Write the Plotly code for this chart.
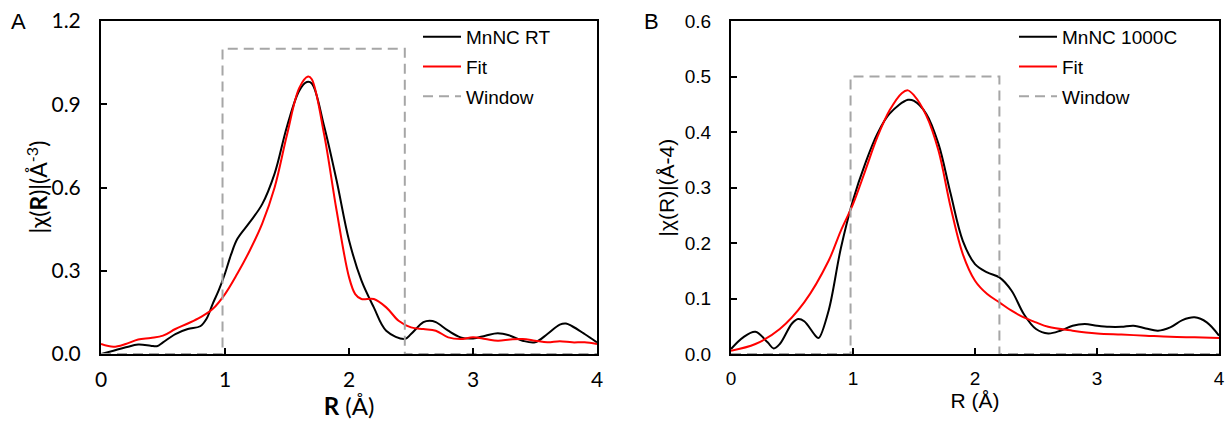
import plotly.graph_objects as go

# Panel A: MnNC RT
rA = [0.0, 0.1, 0.2, 0.3, 0.4, 0.45, 0.5, 0.6, 0.7, 0.8, 0.85, 0.9, 0.95, 1.0, 1.05, 1.1, 1.2, 1.3,
      1.4, 1.5, 1.6, 1.66, 1.7, 1.8, 1.9, 2.0, 2.1, 2.2, 2.3, 2.45, 2.5, 2.6, 2.65, 2.7, 2.8, 2.9,
      3.0, 3.1, 3.2, 3.3, 3.4, 3.5, 3.6, 3.7, 3.75, 3.8, 3.9, 4.0]
mnnc_rt = [0.0, 0.012, 0.024, 0.034, 0.03, 0.028, 0.042, 0.072, 0.09, 0.10, 0.126, 0.18, 0.23, 0.29,
           0.36, 0.415, 0.475, 0.54, 0.65, 0.82, 0.95, 0.98, 0.975, 0.82, 0.625, 0.41, 0.265, 0.168,
           0.084, 0.054, 0.072, 0.115, 0.12, 0.115, 0.084, 0.06, 0.056, 0.066, 0.075, 0.066, 0.048,
           0.042, 0.072, 0.106, 0.11, 0.10, 0.072, 0.042]

rA_fit = [0.0, 0.1, 0.2, 0.3, 0.4, 0.5, 0.6, 0.7, 0.8, 0.9, 1.0, 1.1, 1.2, 1.3, 1.4, 1.5, 1.6, 1.67,
          1.7, 1.8, 1.9, 2.0, 2.05, 2.1, 2.2, 2.3, 2.4, 2.5, 2.6, 2.7, 2.8, 2.9, 3.0, 3.1, 3.2, 3.3,
          3.4, 3.5, 3.6, 3.7, 3.8, 3.9, 4.0]
fit_rt = [0.036, 0.026, 0.036, 0.052, 0.058, 0.066, 0.09, 0.11, 0.132, 0.162, 0.216, 0.29, 0.373,
          0.47, 0.60, 0.79, 0.96, 1.0, 0.99, 0.79, 0.517, 0.277, 0.216, 0.198, 0.198, 0.168, 0.12,
          0.096, 0.09, 0.084, 0.06, 0.054, 0.06, 0.054, 0.048, 0.052, 0.054, 0.048, 0.042, 0.046,
          0.042, 0.042, 0.036]

winA_x = [0.0, 0.98, 0.98, 2.45, 2.45, 4.0]
winA_y = [0.0, 0.0, 1.1, 1.1, 0.0, 0.0]

# Panel B: MnNC 1000C
rB = [0.0, 0.1, 0.2, 0.3, 0.35, 0.4, 0.5, 0.55, 0.6, 0.7, 0.72, 0.8, 0.9, 1.0, 1.1, 1.2, 1.3, 1.45,
      1.5, 1.6, 1.7, 1.8, 1.9, 2.0, 2.1, 2.2, 2.3, 2.4, 2.5, 2.6, 2.7, 2.8, 2.9, 3.0, 3.1, 3.2, 3.3,
      3.4, 3.5, 3.6, 3.7, 3.8, 3.9, 4.0]
mnnc_1000 = [0.009, 0.03, 0.04, 0.021, 0.01, 0.018, 0.055, 0.063, 0.059, 0.031, 0.029, 0.078, 0.19,
             0.277, 0.343, 0.397, 0.433, 0.458, 0.456, 0.433, 0.379, 0.289, 0.204, 0.162, 0.147,
             0.138, 0.114, 0.072, 0.045, 0.037, 0.042, 0.051, 0.054, 0.051, 0.049, 0.049, 0.051,
             0.046, 0.042, 0.048, 0.061, 0.066, 0.057, 0.033]

rB_fit = [0.0, 0.2, 0.4, 0.6, 0.8, 0.9, 1.0, 1.1, 1.2, 1.3, 1.4, 1.45, 1.5, 1.6, 1.7, 1.8, 1.9, 2.0,
          2.1, 2.2, 2.3, 2.4, 2.5, 2.6, 2.8, 3.0, 3.2, 3.4, 3.6, 3.8, 4.0]
fit_1000 = [0.006, 0.018, 0.045, 0.093, 0.168, 0.222, 0.27, 0.33, 0.391, 0.439, 0.47, 0.475, 0.466,
            0.43, 0.367, 0.265, 0.18, 0.132, 0.108, 0.093, 0.078, 0.066, 0.057, 0.049, 0.042,
            0.037, 0.035, 0.033, 0.031, 0.03, 0.029]

winB_x = [0.0, 0.98, 0.98, 2.2, 2.2, 4.0]
winB_y = [0.0, 0.0, 0.5, 0.5, 0.0, 0.0]

GRAY = "#A6A6A6"
FONT_A = "Lato, 'Open Sans', sans-serif"
FONT_B = "'Liberation Sans', Arial, sans-serif"

fig = go.Figure()

# Panel A traces
fig.add_trace(go.Scatter(x=rA, y=mnnc_rt, mode="lines", name="MnNC RT", line=dict(color="black", width=2, shape="spline"),
                         xaxis="x", yaxis="y", legend="legend", legendgroup="a1"))
fig.add_trace(go.Scatter(x=rA_fit, y=fit_rt, mode="lines", name="Fit", line=dict(color="#FF0000", width=2, shape="spline"),
                         xaxis="x", yaxis="y", legend="legend", legendgroup="a2"))
fig.add_trace(go.Scatter(x=winA_x, y=winA_y, mode="lines", name="Window", line=dict(color=GRAY, width=2, dash="10px,6px"),
                         xaxis="x", yaxis="y", legend="legend", legendgroup="a3"))

# Panel B traces
fig.add_trace(go.Scatter(x=rB, y=mnnc_1000, mode="lines", name="MnNC 1000C", line=dict(color="black", width=2, shape="spline"),
                         xaxis="x2", yaxis="y2", legend="legend2", legendgroup="b1"))
fig.add_trace(go.Scatter(x=rB_fit, y=fit_1000, mode="lines", name="Fit", line=dict(color="#FF0000", width=2, shape="spline"),
                         xaxis="x2", yaxis="y2", legend="legend2", legendgroup="b2"))
fig.add_trace(go.Scatter(x=winB_x, y=winB_y, mode="lines", name="Window", line=dict(color=GRAY, width=2, dash="10px,6px"),
                         xaxis="x2", yaxis="y2", legend="legend2", legendgroup="b3"))

W, H = 1231, 425
xA = [101 / W, 597 / W]
xB = [731 / W, 1219 / W]
yD = [(H - 354) / H, (H - 21) / H]
ymid = (yD[0] + yD[1]) / 2

common_axis = dict(showline=True, linecolor="black", linewidth=2, mirror=True, ticks="inside",
                   ticklen=6, tickwidth=1.5, tickcolor="black", showgrid=False, zeroline=False,
                   automargin=False)

fig.update_layout(
    width=W, height=H,
    margin=dict(l=0, r=0, t=0, b=0, autoexpand=False),
    paper_bgcolor="white", plot_bgcolor="white",
    showlegend=True,
    xaxis=dict(domain=xA, range=[0, 4], dtick=1, anchor="y", ticklabelstandoff=6,
               tickfont=dict(family=FONT_A, size=21, color="black"),
               title=dict(text="<b>R</b> (Å)", font=dict(family=FONT_A, size=24, color="black"), standoff=4),
               **common_axis),
    yaxis=dict(domain=yD, range=[0, 1.2], dtick=0.3, tickformat=".1f", anchor="x", ticklabelstandoff=14,
               tickfont=dict(family=FONT_A, size=21, color="black"),
               **common_axis),
    xaxis2=dict(domain=xB, range=[0, 4], dtick=1, anchor="y2", ticklabelstandoff=6,
                tickfont=dict(family=FONT_B, size=19, color="black"),
                title=dict(text="R (Å)", font=dict(family=FONT_B, size=21, color="black"), standoff=4),
                **common_axis),
    yaxis2=dict(domain=yD, range=[0, 0.6], dtick=0.1, tickformat=".1f", anchor="x2", ticklabelstandoff=14,
                tickfont=dict(family=FONT_B, size=19, color="black"),
                **common_axis),
    legend=dict(x=418 / W, y=(H - 18) / H, xanchor="left", yanchor="top", bgcolor="rgba(0,0,0,0)",
                font=dict(family=FONT_B, size=19, color="black"), tracegroupgap=2, itemwidth=38),
    legend2=dict(x=1014 / W, y=(H - 18) / H, xanchor="left", yanchor="top", bgcolor="rgba(0,0,0,0)",
                 font=dict(family=FONT_B, size=19, color="black"), tracegroupgap=2, itemwidth=38),
    annotations=[
        dict(text="A", x=18 / W, y=(H - 22) / H, xref="paper", yref="paper", showarrow=False,
             xanchor="center", yanchor="middle", font=dict(family=FONT_B, size=22, color="black")),
        dict(text="B", x=652 / W, y=(H - 22) / H, xref="paper", yref="paper", showarrow=False,
             xanchor="center", yanchor="middle", font=dict(family=FONT_B, size=22, color="black")),
        dict(text="|χ(<b>R</b>)|(Å<sup>-3</sup>)", x=37 / W, y=ymid, xref="paper", yref="paper",
             showarrow=False, textangle=-90, xanchor="center", yanchor="middle",
             font=dict(family=FONT_A, size=23, color="black")),
        dict(text="|χ(R)|(Å-4)", x=666 / W, y=ymid, xref="paper", yref="paper",
             showarrow=False, textangle=-90, xanchor="center", yanchor="middle",
             font=dict(family=FONT_B, size=21, color="black")),
    ],
)

fig.write_html("out.html")
